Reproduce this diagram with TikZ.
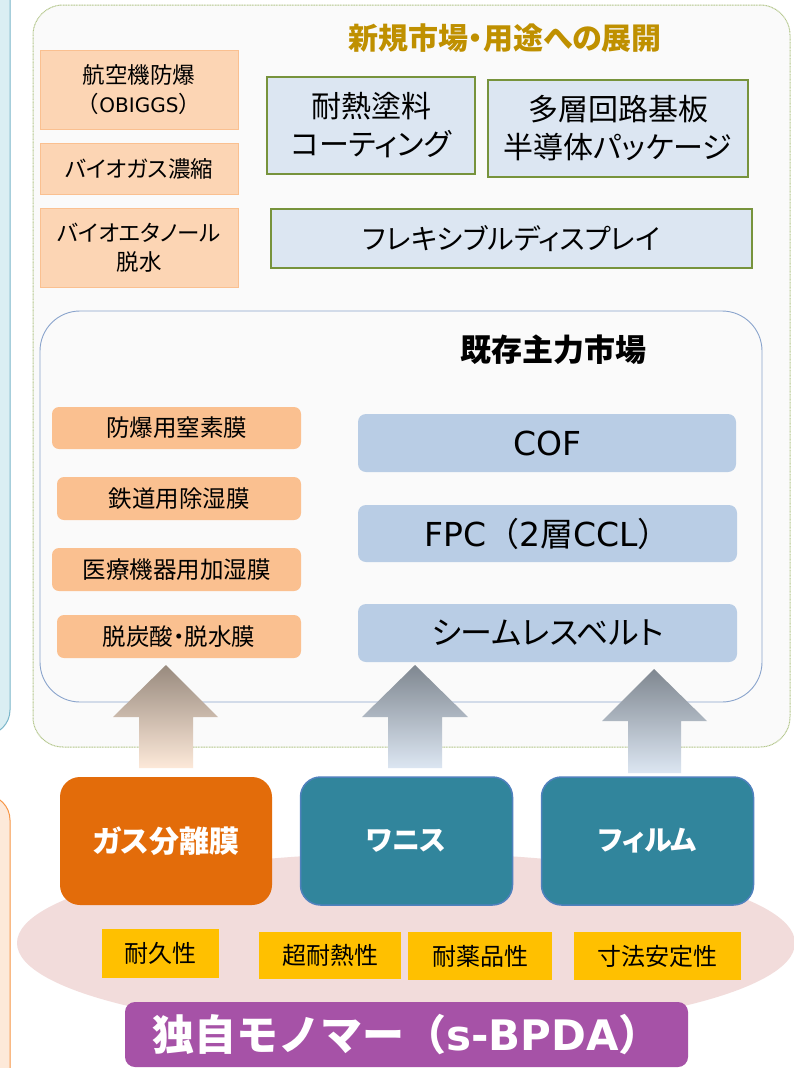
\documentclass[tikz,border=0pt]{standalone}
\usepackage{fontspec}
\setmainfont{Noto Sans CJK JP}[RawFeature=+palt]
\newfontfamily\jpfull{Noto Sans CJK JP}
\newfontfamily\lat{DejaVu Sans}
\definecolor{leftf}{HTML}{DAEEF3}
\definecolor{leftb}{HTML}{7AB6CA}
\definecolor{left2f}{HTML}{FDE9D9}
\definecolor{left2b}{HTML}{F79646}
\definecolor{panelf}{HTML}{FAFAFA}
\definecolor{panelg}{HTML}{B3C68A}
\definecolor{innerb}{HTML}{8AA4CC}
\definecolor{titlegold}{HTML}{BF9000}
\definecolor{peachf}{HTML}{FCD5B4}
\definecolor{peachb}{HTML}{FAC090}
\definecolor{newf}{HTML}{DCE6F2}
\definecolor{newb}{HTML}{77933C}
\definecolor{olistf}{HTML}{FAC090}
\definecolor{blistf}{HTML}{B9CDE5}
\definecolor{gasf}{HTML}{E36C0A}
\definecolor{tealf}{HTML}{31859C}
\definecolor{tealb}{HTML}{4F81BD}
\definecolor{ellf}{HTML}{F2DCDB}
\definecolor{propf}{HTML}{FFC000}
\definecolor{purplef}{HTML}{A652A7}
\definecolor{arrbrown}{HTML}{988A7E}
\definecolor{arrpeach}{HTML}{FDE9D9}
\definecolor{arrgrey}{HTML}{7F8790}
\definecolor{arrblue}{HTML}{DCE6F2}
\begin{document}
\begin{tikzpicture}[x=1pt,y=-1pt,
  every node/.style={inner sep=0pt, align=center},
  panel/.style={fill=panelf},
  peachbox/.style={draw=peachb, fill=peachf, line width=1pt, font=\fontsize{22.5}{29}\selectfont},
  newbox/.style={draw=newb, fill=newf, line width=1.8pt, font=\fontsize{30}{38}\selectfont},
  olist/.style={fill=olistf, rounded corners=7pt, font=\fontsize{23.5}{27}\selectfont},
  blist/.style={fill=blistf, rounded corners=8pt, font=\fontsize{33}{38}\selectfont},
  prod/.style={rounded corners=20pt, text=white, font=\bfseries\fontsize{28}{32}\selectfont, minimum width=212pt, minimum height=128pt},
  propbox/.style={fill=propf, font=\fontsize{24}{28}\selectfont}
]
\clip (0,0) rectangle (794,1068);
\fill[white] (0,0) rectangle (794,1068);
% partial side panels
\draw[draw=leftb, fill=leftf, line width=1pt, rounded corners=25pt] (-60,-60) rectangle (10,735);
\draw[draw=left2b, fill=left2f, line width=1pt, rounded corners=25pt] (-60,795) rectangle (10,1130);
% outer panel
\node[panel, draw=panelg, line width=1pt, dash pattern=on 1pt off 0.6pt, rounded corners=30pt,
      minimum width=757pt, minimum height=742pt] (outer) at (411.5,376) {};
\node[text=titlegold, font=\bfseries\fontsize{30}{34}\selectfont] (t1) at (505,38) {新規市場・用途への展開};
% new market boxes
\node[peachbox, minimum width=198pt, minimum height=79pt] (p1) at (139,89.5) {航空機防爆\\{\jpfull （}{\lat\fontsize{20}{29}\selectfont OBIGGS}{\jpfull ）}};
\node[peachbox, minimum width=198pt, minimum height=51pt] (p2) at (139,168.5) {バイオガス濃縮};
\node[peachbox, minimum width=198pt, minimum height=79pt] (p3) at (139,247.5) {バイオエタノール\\脱水};
\node[newbox, minimum width=208pt, minimum height=97pt] (nA) at (371,125.5) {耐熱塗料\\コーティング};
\node[newbox, minimum width=260pt, minimum height=97pt] (nB) at (618,128.5) {多層回路基板\\半導体パッケージ};
\node[newbox, minimum width=481pt, minimum height=59pt, font=\fontsize{28}{34}\selectfont] (nC) at (511.5,238.5) {フレキシブルディスプレイ};
% existing market panel
\node[panel, draw=innerb, line width=0.9pt, rounded corners=40pt,
      minimum width=722pt, minimum height=391pt] (inner) at (401,506.5) {};
\node[font=\bfseries\fontsize{31}{36}\selectfont] (t2) at (553,350) {既存主力市場};
\node[olist, minimum width=249pt, minimum height=42pt] (o1) at (176.5,428) {防爆用窒素膜};
\node[olist, minimum width=244pt, minimum height=43pt] (o2) at (179,498.5) {鉄道用除湿膜};
\node[olist, minimum width=249pt, minimum height=43pt] (o3) at (176.5,569.5) {医療機器用加湿膜};
\node[olist, minimum width=244pt, minimum height=43pt] (o4) at (179,636.5) {脱炭酸・脱水膜};
\node[blist, minimum width=378pt, minimum height=58pt] (b1) at (547,443) {\lat COF};
\node[blist, minimum width=379pt, minimum height=57pt] (b2) at (547.5,533.5) {{\lat FPC}{\jpfull （}{\lat 2}{\jpfull 層}{\lat CCL}{\jpfull ）}};
\node[blist, minimum width=379pt, minimum height=58pt, font=\fontsize{32}{38}\selectfont] (b3) at (547.5,633) {シームレスベルト};
% block arrows
\shade[top color=arrbrown, bottom color=arrpeach]
  (166,665) -- (218,717) -- (193,717) -- (193,768) -- (139,768) -- (139,717) -- (113,717) -- cycle;
\shade[top color=arrgrey, bottom color=arrblue]
  (415,665) -- (468,717) -- (442,717) -- (442,768) -- (388,768) -- (388,717) -- (362,717) -- cycle;
\shade[top color=arrgrey, bottom color=arrblue]
  (654,669) -- (707,721) -- (681,721) -- (681,773) -- (628,773) -- (628,721) -- (602,721) -- cycle;
% base ellipse
\fill[ellf] (406,943) ellipse [x radius=389, y radius=90];
% product boxes
\node[prod, fill=gasf, font=\bfseries\fontsize{30}{34}\selectfont] (gas) at (166,841) {ガス分離膜};
\node[prod, fill=tealf, draw=tealb, line width=1.5pt] (varnish) at (406.5,841) {ワニス};
\node[prod, fill=tealf, draw=tealb, line width=1.5pt] (film) at (647.5,841) {フィルム};
% property boxes
\node[propbox, minimum width=117pt, minimum height=49pt] (q1) at (160.5,953.5) {耐久性};
\node[propbox, minimum width=142pt, minimum height=47pt] (q2) at (330,955.5) {超耐熱性};
\node[propbox, minimum width=144pt, minimum height=48pt] (q3) at (480,956) {耐薬品性};
\node[propbox, minimum width=167pt, minimum height=48pt] (q4) at (657.5,956) {寸法安定性};
% monomer
\node[fill=purplef, rounded corners=10pt, minimum width=563pt, minimum height=65pt,
      text=white, font=\bfseries\fontsize{42}{48}\selectfont] (mono) at (406.5,1034.5)
      {{\jpfull 独自モノマー（}{\lat s-BPDA}{\jpfull ）}};
\end{tikzpicture}
\end{document}
